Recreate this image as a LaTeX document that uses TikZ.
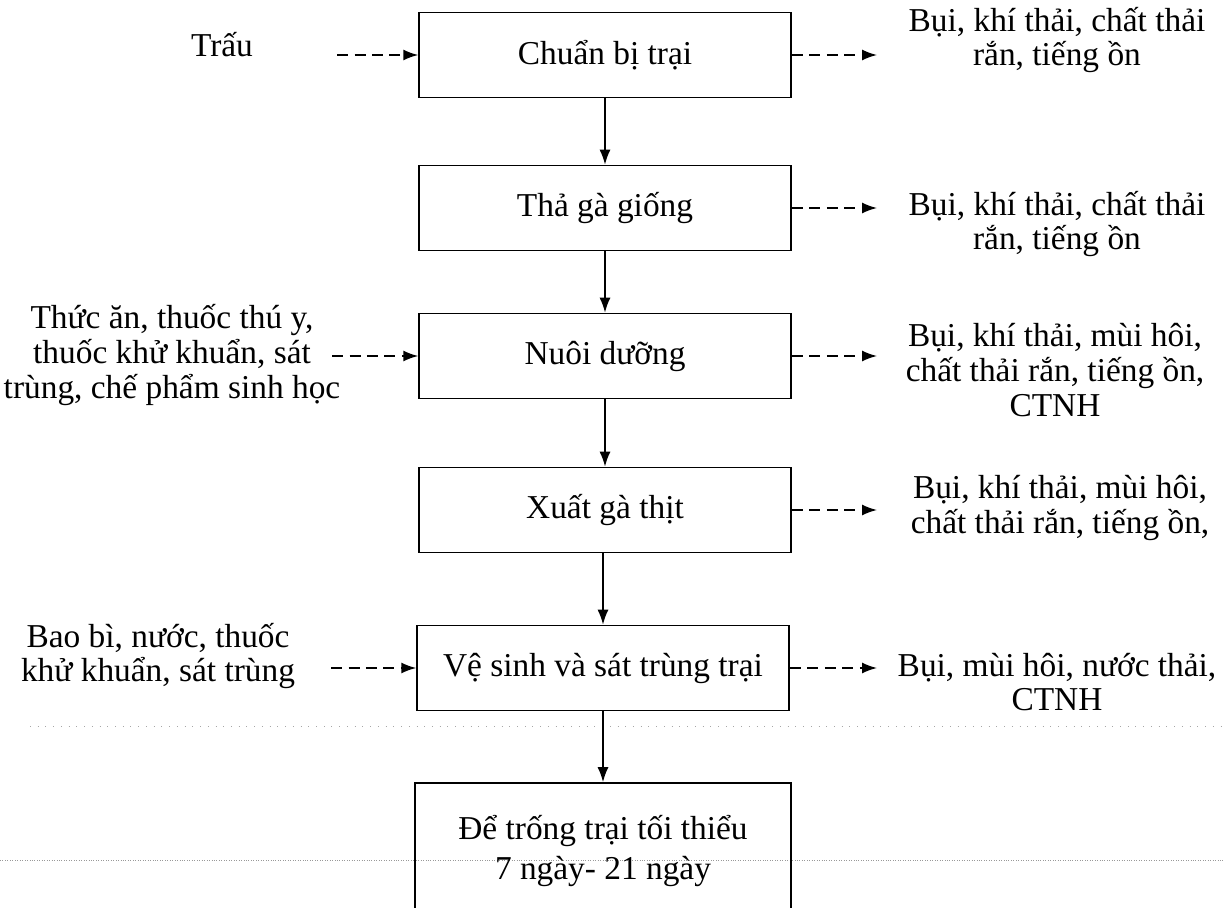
\documentclass[tikz,border=0pt]{standalone}
\usepackage{fontspec}
\setmainfont{Liberation Serif}
\usetikzlibrary{arrows.meta}

\begin{document}
\begin{tikzpicture}[x=0.02cm, y=-0.02cm,
    every node/.style={font=\fontsize{19}{19.8}\selectfont},
    stage/.style={draw, line width=0.9pt, minimum width=7.44cm, minimum height=1.7cm, align=center},
    note/.style={align=center},
    flow/.style={-{Latex[length=0.3cm,width=0.22cm]}, line width=1pt},
    side/.style={flow, line width=0.9pt, dash pattern=on 0.22cm off 0.13cm}]
\useasboundingbox (0,0) rectangle (1223,908);
% scan marks
\draw[gray!70, line width=0.4pt, loosely dotted] (30,726) -- (1223,726);
\draw[gray!80, line width=0.4pt, densely dotted] (0,860) -- (1223,860);

\node[stage] (chuanbi) at (605,55) {Chuẩn bị trại};
\node[stage] (thaga) at (605,208) {Thả gà giống};
\node[stage] (nuoi) at (605,356) {Nuôi dưỡng};
\node[stage] (xuat) at (605,510) {Xuất gà thịt};
\node[stage] (vesinh) at (603,668) {Vệ sinh và sát trùng trại};
\node[stage, minimum width=7.52cm, minimum height=2.72cm] (detrong) at (603,851) {Để trống trại tối thiểu\\[0.1cm]7 ngày- 21 ngày};

\draw[flow] (chuanbi) -- (thaga);
\draw[flow] (thaga) -- (nuoi);
\draw[flow] (nuoi) -- (xuat);
\draw[flow] (xuat.south -| vesinh) -- (vesinh);
\draw[flow] (vesinh) -- (detrong);

% dau vao
\node[note] (trau) at (222,45) {Trấu};
\node[note] (thucan) at (172,355) {Thức ăn, thuốc thú y,\\thuốc khử khuẩn, sát\\trùng, chế phẩm sinh học};
\node[note] (baobi) at (158,656) {Bao bì, nước, thuốc\\khử khuẩn, sát trùng};
\coordinate (s1) at (337,55);
\coordinate (s3) at (332,356);
\coordinate (s5) at (331,668);
\draw[side] (s1) -- (chuanbi);
\draw[side] (s3) -- (nuoi);
\draw[side] (s5) -- (vesinh);

% chat thai
\node[note] (out1) at (1057,40) {Bụi, khí thải, chất thải\\rắn, tiếng ồn};
\node[note] (out2) at (1057,224) {Bụi, khí thải, chất thải\\rắn, tiếng ồn};
\node[note] (out3) at (1055,370) {Bụi, khí thải, mùi hôi,\\chất thải rắn, tiếng ồn,\\CTNH};
\node[note] (out4) at (1060,508) {Bụi, khí thải, mùi hôi,\\chất thải rắn, tiếng ồn,};
\node[note] (out5) at (1057,682) {Bụi, mùi hôi, nước thải,\\CTNH};
\coordinate (t1) at (877,55);
\coordinate (t2) at (877,208);
\coordinate (t3) at (877,356);
\coordinate (t4) at (877,510);
\coordinate (t5) at (877,668);
\draw[side] (chuanbi) -- (t1);
\draw[side] (thaga) -- (t2);
\draw[side] (nuoi) -- (t3);
\draw[side] (xuat) -- (t4);
\draw[side] (vesinh) -- (t5);
\end{tikzpicture}
\end{document}
